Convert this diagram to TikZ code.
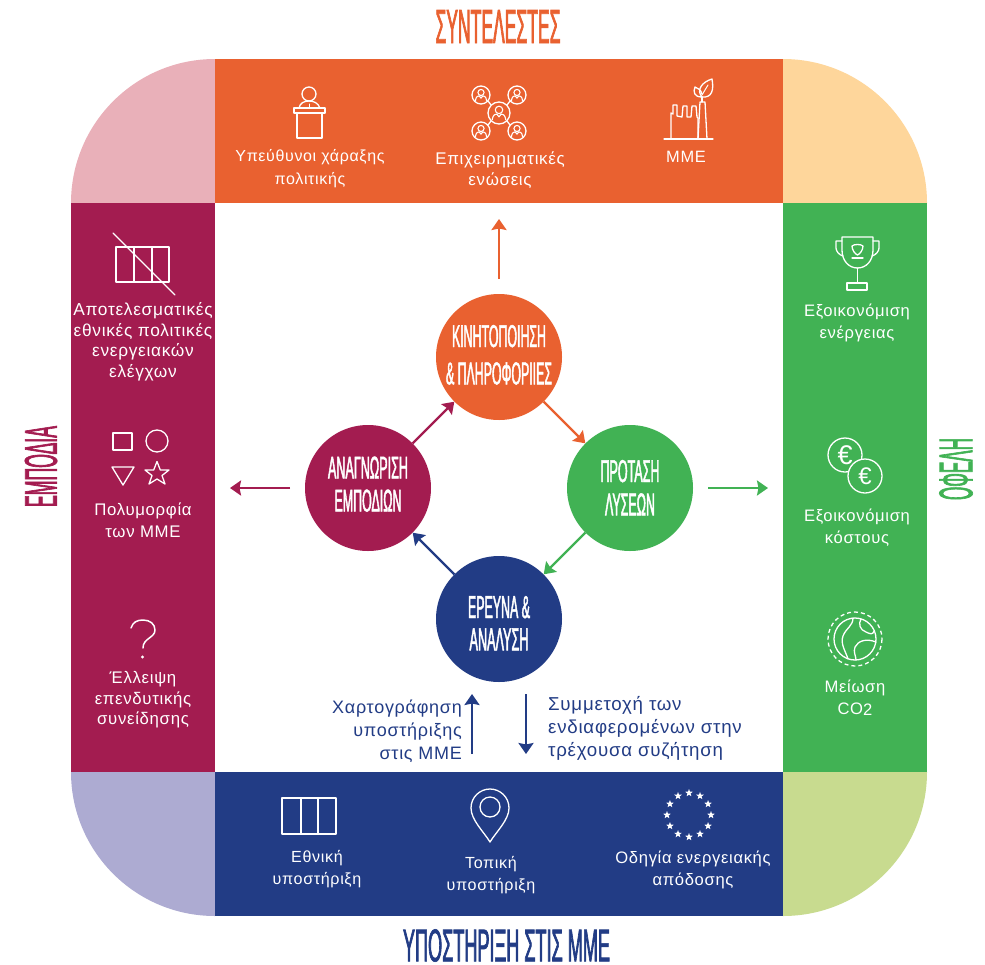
\documentclass[tikz,border=0pt]{standalone}
\usepackage{graphicx}
\usepackage{fontspec}
\usetikzlibrary{arrows.meta,shapes.geometric}
\setmainfont{Liberation Sans}[LetterSpace=4]
\newfontface\condfont[FakeStretch=0.42,FakeBold=1.5]{Liberation Sans}
\definecolor{cOrange}{HTML}{E96130}
\definecolor{cCrimson}{HTML}{A31C50}
\definecolor{cGreen}{HTML}{41B254}
\definecolor{cNavy}{HTML}{223C85}
\definecolor{cPink}{HTML}{E9B0B9}
\definecolor{cPeach}{HTML}{FED69B}
\definecolor{cLav}{HTML}{ADABD2}
\definecolor{cLime}{HTML}{C8DB8F}
\newcommand\cond[3]{\resizebox{#1pt}{#2pt}{\fontsize{40}{40}\selectfont\condfont #3}}
% widths/texts of two lines, gap, vertical offset of the block from the circle centre
\newcommand\circlabel[6]{\setbox0=\vbox{\hsize=108pt\parindent=0pt\centering
  \cond{#1}{22}{#2}\par\nointerlineskip\vskip#5pt\cond{#3}{22}{#4}\par}\ht0=0pt\dp0=0pt
  \setbox1=\hbox{\raise\dimexpr #6pt+22pt+#5pt/2\relax\box0}\ht1=0pt\dp1=0pt\box1}
\tikzset{
  stage/.style={circle,minimum size=126pt,inner sep=0pt,text=white},
  bodytext/.style={align=center,text=white,inner sep=0pt},
  bs/.style={font=\fontsize{#1}{21.5}\selectfont},
  bst/.style={font=\fontsize{#1}{20.5}\selectfont},
  bsw/.style={font=\fontsize{#1}{22.5}\selectfont},
  navytext/.style={font=\fontsize{#1}{23}\selectfont,text=cNavy,inner sep=0pt},
  icon/.style={draw=white,line width=1.3pt,line join=round,line cap=round},
  flow/.style={line width=2.4pt,-{Stealth[length=11pt,width=15pt,inset=1.5pt]}},
  euro/.style={text=white,inner sep=0pt}
}
\newcommand\personring[3]{
  \draw[icon] (#1,#2) circle[radius=#3];
  \draw[icon,line width=1.1pt] (#1,#2-0.28*#3) circle[radius=0.34*#3];
  \draw[icon,line width=1.1pt] (#1-0.62*#3,#2+0.62*#3) .. controls (#1-0.55*#3,#2+0.1*#3) and (#1-0.3*#3,#2+0.1*#3) .. (#1-0.2*#3,#2+0.1*#3)
     -- (#1,#2+0.35*#3) -- (#1+0.2*#3,#2+0.1*#3) .. controls (#1+0.3*#3,#2+0.1*#3) and (#1+0.55*#3,#2+0.1*#3) .. (#1+0.62*#3,#2+0.62*#3);
}
\begin{document}
\begin{tikzpicture}[x=1pt,y=-1pt]
\useasboundingbox (0,0) rectangle (985,964);
% corners
\fill[cPink] (71,203) .. controls (71,123.5) and (135.5,59) .. (215,59) -- (215,203) -- cycle;
\fill[cPeach] (783,59) .. controls (862.5,59) and (927,123.5) .. (927,203) -- (783,203) -- cycle;
\fill[cLav] (71,772) .. controls (71,851.5) and (135.5,916) .. (215,916) -- (215,772) -- cycle;
\fill[cLime] (927,772) .. controls (927,851.5) and (862.5,916) .. (783,916) -- (783,772) -- cycle;
% bands
\fill[cOrange] (215,59) rectangle (783,203);
\fill[cCrimson] (71,203) rectangle (215,772);
\fill[cGreen] (783,203) rectangle (927,772);
\fill[cNavy] (215,772) rectangle (783,916);
% titles
\node[inner sep=0pt,text=cOrange] (ttop) at (498,26.5) {\cond{125}{33}{ΣΥΝΤΕΛΕΣΤΕΣ}};
\node[inner sep=0pt,text=cNavy] (tbottom) at (506.5,945.5) {\cond{207}{32}{ΥΠΟΣΤΗΡΙΞΗ ΣΤΙΣ ΜΜΕ}};
\node[inner sep=0pt,text=cCrimson,rotate=90] (tleft) at (41,466.5) {\cond{81}{32}{ΕΜΠΟΔΙΑ}};
\node[inner sep=0pt,text=cGreen,rotate=90] (tright) at (956,469) {\cond{62}{33}{ΟΦΕΛΗ}};
% stages
\node[stage,fill=cOrange] (top) at (499,357) {\circlabel{94}{ΚΙΝΗΤΟΠΟΙΗΣΗ}{106}{\&\ ΠΛΗΡΟΦΟΡΙΙΕΣ}{15}{2.5}};
\node[stage,fill=cGreen] (right) at (630,488) {\circlabel{59}{ΠΡΟΤΑΣΗ}{50}{ΛΥΣΕΩΝ}{11}{0.5}};
\node[stage,fill=cNavy] (bottom) at (499,619) {\circlabel{62}{ΕΡΕΥΝΑ \&}{59}{ΑΝΑΛΥΣΗ}{10}{-4}};
\node[stage,fill=cCrimson] (left) at (368,488) {\circlabel{80}{ΑΝΑΓΝΩΡΙΣΗ}{67}{ΕΜΠΟΔΙΩΝ}{11}{4}};
\draw[flow,cOrange] (top.-45) -- (right.135);
\draw[flow,cGreen] (right.-135) -- (bottom.45);
\draw[flow,cNavy] (bottom.135) -- (left.-45);
\draw[flow,cCrimson] (left.45) -- (top.-135);
% free arrows
\coordinate (a1s) at (499,279); \coordinate (a1e) at (499,219);
\coordinate (a2s) at (290,488); \coordinate (a2e) at (230,488);
\coordinate (a3s) at (708,488); \coordinate (a3e) at (768,488);
\coordinate (a4s) at (472,754); \coordinate (a4e) at (472,694);
\coordinate (a5s) at (526,694); \coordinate (a5e) at (526,754);
\draw[flow,cOrange] (a1s) -- (a1e);
\draw[flow,cCrimson] (a2s) -- (a2e);
\draw[flow,cGreen] (a3s) -- (a3e);
\draw[flow,cNavy] (a4s) -- (a4e);
\draw[flow,cNavy] (a5s) -- (a5e);
% texts top
\node[bodytext,bsw=16] (t1) at (310,168.5) {Υπεύθυνοι χάραξης\\πολιτικής};
\node[bodytext,bs=16.9] (t2) at (500,170) {Επιχειρηματικές\\ενώσεις};
\node[bodytext,bs=16.4] (t3) at (686,157) {ΜΜΕ};
% texts left
\node[bodytext,bst=17.3] (t4) at (143,342) {Αποτελεσματικές\\εθνικές πολιτικές\\ενεργειακών\\ελέγχων};
\node[bodytext,bs=16.8] (t5) at (143,520) {Πολυμορφία\\των ΜΜΕ};
\node[bodytext,bst=16.8] (t6) at (143,700) {Έλλειψη\\επενδυτικής\\συνείδησης};
% texts right
\node[bodytext,bs=16.6] (t7) at (857,323) {Εξοικονόμιση\\ενέργειας};
\node[bodytext,bs=16.6] (t8) at (857,527.5) {Εξοικονόμιση\\κόστους};
\node[bodytext,bs=16.6] (t9) at (855,698) {Μείωση\\CO\raisebox{-1.5pt}{2}};
% texts bottom
\node[bodytext,bs=16.1] (t10) at (317,869) {Εθνική\\υποστήριξη};
\node[bodytext,bs=16.1] (t11) at (491,875) {Τοπική\\υποστήριξη};
\node[bodytext,bs=16.6] (t12) at (693,870) {Οδηγία ενεργειακής\\απόδοσης};
\node[navytext=18,align=right,anchor=east] (t13) at (462,731) {Χαρτογράφηση\\υποστήριξης\\στις ΜΜΕ};
\node[navytext=18.7,align=left,anchor=west] (t14) at (548,728) {Συμμετοχή των\\ενδιαφερομένων στην\\τρέχουσα συζήτηση};
% podium
\draw[icon] (309,94) circle[radius=7];
\draw[icon] (299,108) .. controls (300,103) and (304,101) .. (309,101) .. controls (314,101) and (318,103) .. (320,108);
\draw[icon,line width=1pt] (309,104) -- (309,108);
\draw[icon] (294,108) rectangle (325,113);
\draw[icon] (297,113) rectangle (322,138);
% network
\draw[icon] (488,101) -- (491,105) (510,101) -- (507,105) (488,125) -- (491,121) (510,125) -- (507,121);
\personring{499}{113}{11}
\personring{481}{95}{9}
\personring{517}{95}{9}
\personring{481}{131}{9}
\personring{517}{131}{9}
% factory
\draw[icon] (664,139) -- (713,139);
\draw[icon] (671,139) -- (671,113) -- (673,114) -- (673,105) -- (677,105) -- (677,116) -- (682,117) -- (683,106) -- (687,106) -- (687,117) -- (691,117) -- (692,106) -- (696,106) -- (697,117) -- (698,118) -- (698,139);
\draw[icon] (698,139) -- (700,102) -- (705,102) -- (707,139);
\draw[icon] (702,102) -- (702,97);
\draw[icon] (702,97) .. controls (712,98) and (714,90) .. (712,79) .. controls (702,82) and (696,90) .. (702,97);
\draw[icon] (702,97) .. controls (694,97) and (693,92) .. (695,87) .. controls (698,88) and (701,90) .. (702,94);
\draw[icon,line width=1pt] (702,95) -- (708,85);
% grids
\draw[icon] (116,247) rectangle (169,282);
\draw[icon] (134,247) -- (134,282) (152,247) -- (152,282);
\draw[icon] (113,233) -- (175,295);
\draw[icon] (282,798) rectangle (336,834);
\draw[icon] (301,798) -- (301,834) (318,798) -- (318,834);
% shapes
\draw[icon] (113,433) rectangle (132,450);
\draw[icon] (157,441) circle[radius=11];
\draw[icon] (112,467) -- (134,467) -- (123,485) -- cycle;
\draw[icon] (157,461.5) -- (160.3,470) -- (169,470) -- (162,475.5) -- (165,484) -- (157,479) -- (149,484) -- (152,475.5) -- (145,470) -- (153.7,470) -- cycle;
% question mark
\draw[icon,line width=1.5pt] (131,628) .. controls (133,622) and (137,620) .. (143,620) .. controls (150,620) and (155,624) .. (155,630) .. controls (155,638) and (143,638) .. (143,648);
\fill[white] (142.5,657) circle[radius=1.6];
% trophy
\draw[icon] (842,237) -- (873,237) -- (873,250) .. controls (873,261) and (866,268) .. (857.5,268) .. controls (849,268) and (842,261) .. (842,250) -- cycle;
\draw[icon] (842,241) -- (836,241) -- (836,248) .. controls (836,251) and (839,255) .. (843,256);
\draw[icon] (873,241) -- (879,241) -- (879,248) .. controls (879,251) and (876,255) .. (872,256);
\draw[icon] (857.5,268) -- (857.5,283);
\draw[icon] (847,283) rectangle (867,290);
\draw[icon] (852,246) .. controls (854,244) and (861,244) .. (863,246) .. controls (863,250) and (860,254) .. (857.5,255) .. controls (855,254) and (852,250) .. (852,246);
\draw[icon] (852,258) -- (863,258);
% coins
\draw[icon] (845,455) circle[radius=17];
\node[euro,font=\fontsize{27}{27}\selectfont] (e1) at (845,455) {€};
\draw[icon,fill=cGreen] (865,476) circle[radius=17];
\node[euro,font=\fontsize{24}{24}\selectfont] (e2) at (865,476) {€};
% globe
\draw[icon] (855,639) circle[radius=21];
\draw[icon,dashed,dash pattern=on 4pt off 3pt,line cap=butt] (855,639) circle[radius=27];
\draw[icon] (853,618) .. controls (853,626) and (846,628) .. (843,636) .. controls (840,644) and (846,652) .. (848,659);
\draw[icon] (861,619) .. controls (858,624) and (860,630) .. (866,632) .. controls (870,634) and (873,635) .. (874,631);
\draw[icon] (876,642) .. controls (866,638) and (858,641) .. (855,647) .. controls (853,652) and (856,656) .. (856,660);
% pin
\draw[icon] (490,842) .. controls (484,832) and (471,820) .. (471,808) .. controls (471,797) and (480,789) .. (490,789) .. controls (500,789) and (509,797) .. (509,808) .. controls (509,820) and (496,832) .. (490,842) -- cycle;
\draw[icon] (490,807) circle[radius=10];
% EU stars
\foreach \a in {0,30,...,330}
  \node[star,star points=5,star point ratio=2.4,fill=white,minimum size=8pt,inner sep=0pt] (s\a) at ({689+22*cos(\a)},{815+22*sin(\a)}) {};
\end{tikzpicture}
\end{document}
